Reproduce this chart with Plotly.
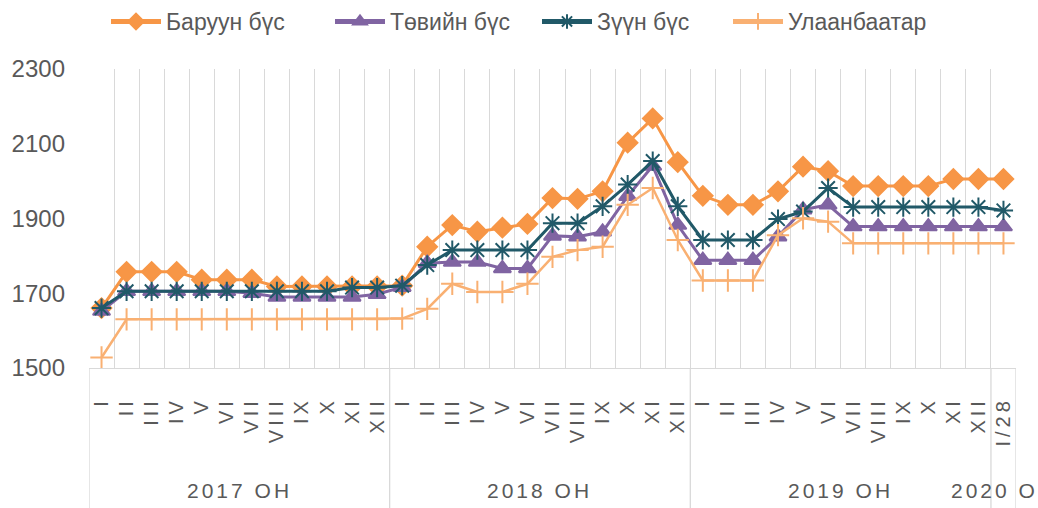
import plotly.graph_objects as go

# ---- data -------------------------------------------------------------
months = ["I", "II", "III", "IV", "V", "VI", "VII", "VIII", "IX", "X", "XI", "XII"]
tick_labels = months * 3 + ["I/28"]
years = ["2017 ОН", "2018 ОН", "2019 ОН", "2020 ОН"]
year_sizes = [12, 12, 12, 1]

series_names = ["Баруун бүс", "Төвийн бүс", "Зүүн бүс", "Улаанбаатар"]

baruun = [1660, 1757, 1757, 1757, 1736, 1736, 1736, 1718, 1718, 1718, 1718, 1718,
          1720, 1824, 1882, 1864, 1875, 1885, 1954, 1952, 1972, 2102, 2167, 2050,
          1960, 1936, 1936, 1972, 2038, 2026, 1986, 1986, 1986, 1986, 2005, 2005,
          2005]
tuviin = [1652, 1705, 1705, 1705, 1705, 1705, 1700, 1690, 1690, 1690, 1690, 1697,
          1716, 1780, 1783, 1783, 1766, 1766, 1853, 1851, 1864, 1959, 2040, 1882,
          1788, 1788, 1788, 1851, 1923, 1936, 1878, 1878, 1878, 1878, 1878, 1878,
          1878]
zuun = [1660, 1705, 1705, 1705, 1705, 1705, 1705, 1705, 1705, 1705, 1715, 1715,
        1720, 1775, 1815, 1815, 1815, 1815, 1887, 1887, 1932, 1990, 2053, 1932,
        1842, 1842, 1842, 1898, 1918, 1981, 1930, 1930, 1930, 1930, 1930, 1930,
        1921]
ulaanbaatar = [1528, 1630, 1630, 1630, 1630, 1630, 1630, 1630, 1630, 1630, 1630, 1630,
               1632, 1658, 1725, 1703, 1703, 1725, 1797, 1815, 1824, 1936, 1981, 1842,
               1734, 1734, 1734, 1855, 1900, 1891, 1833, 1833, 1833, 1833, 1833, 1833,
               1833]

# ---- styles -----------------------------------------------------------
FONT = "Liberation Sans, Arial, sans-serif"
TXT = "#595959"
GRID = "#D9D9D9"
colors = ["#F79646", "#8064A2", "#215968", "#F9B072"]
symbols = ["diamond", "triangle-up", "asterisk-open", "cross-thin-open"]
sizes = [15, 15, 16, 16]
widths = [3, 3, 3, 2.5]
legend_widths = [159, 142, 126, 140]

x = list(range(len(tick_labels)))
fig = go.Figure()
for name, ys, c, s, sz, w, lw in zip(series_names, [baruun, tuviin, zuun, ulaanbaatar],
                                     colors, symbols, sizes, widths, legend_widths):
    fig.add_trace(go.Scatter(
        x=x, y=ys, name=name, mode="lines+markers",
        line=dict(color=c, width=w),
        marker=dict(symbol=s, size=sz, color=c, line=dict(color=c, width=2)),
        legendwidth=lw,
    ))

# year group labels and dividers
shapes = []
annotations = []
start = 0
bounds = [start - 0.5]
for yname, n in zip(years, year_sizes):
    center = start + (n - 1) / 2
    annotations.append(dict(
        x=center, y=-0.41, xref="x", yref="paper", showarrow=False,
        text=f'<span style="letter-spacing:3px">{yname}</span>',
        font=dict(family=FONT, size=21, color=TXT),
        xanchor="center", yanchor="middle"))
    start += n
    bounds.append(start - 0.5)
for b in bounds:
    shapes.append(dict(type="line", xref="x", yref="paper", x0=b, x1=b,
                       y0=0, y1=-0.5, line=dict(color=GRID, width=1.3)))

fig.update_layout(
    width=1038, height=508,
    margin=dict(l=87, r=22, t=68, b=140),
    paper_bgcolor="white", plot_bgcolor="white",
    font=dict(family=FONT, color=TXT),
    showlegend=True,
    legend=dict(orientation="h", xref="container", yref="container",
                x=106 / 1038, xanchor="left", y=1.0, yanchor="top",
                font=dict(family=FONT, size=23, color=TXT),
                itemwidth=50, itemsizing="constant", tracegroupgap=0),
    shapes=shapes,
    annotations=annotations,
)
fig.update_xaxes(
    range=[-0.5, len(x) - 0.5],
    tickmode="array", tickvals=x,
    ticktext=[f'<span style="letter-spacing:4px">{t}</span>' for t in tick_labels],
    tickangle=-90, ticks="", showgrid=False, zeroline=False,
    tickfont=dict(family=FONT, size=20, color=TXT),
    ticklabelstandoff=20,
    showline=True, linecolor=GRID, linewidth=1.3,
    minor=dict(tick0=-0.5, dtick=1, showgrid=True, gridcolor=GRID, gridwidth=1.3, ticks=""),
)
fig.update_yaxes(
    range=[1500, 2300], tick0=1500, dtick=200, showgrid=False, zeroline=False,
    ticks="", ticklabelstandoff=23,
    tickfont=dict(family=FONT, size=24, color=TXT),
)

fig.write_html("out.html", config={"displayModeBar": False},
               post_script="document.body.style.margin='0';")
